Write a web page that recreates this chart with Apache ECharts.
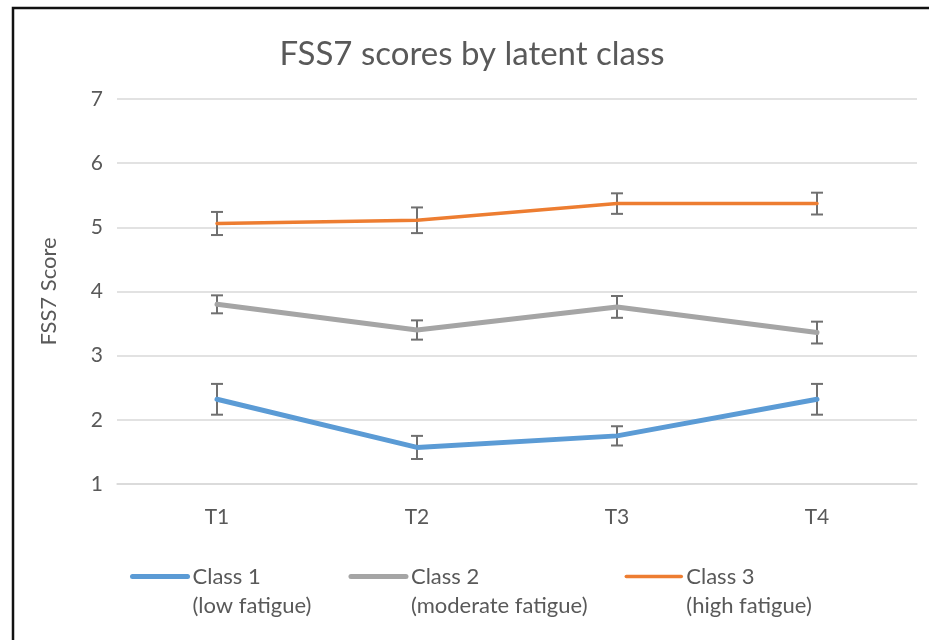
<!DOCTYPE html>
<html>
<head>
<meta charset="utf-8">
<script src="https://cdn.jsdelivr.net/npm/echarts@6/dist/echarts.min.js"></script>
<style>
  html, body { margin: 0; padding: 0; background: #fff; }
  #chart { width: 929px; height: 640px; }
</style>
</head>
<body>
<div id="chart"></div>
<script>
var categories = ['T1', 'T2', 'T3', 'T4'];
var seriesNames = ['Class 1\n(low fatigue)', 'Class 2\n(moderate fatigue)', 'Class 3\n(high fatigue)'];
var class1 = [2.32, 1.57, 1.75, 2.32];
var class1Err = [0.24, 0.18, 0.15, 0.24];
var class2 = [3.80, 3.40, 3.76, 3.36];
var class2Err = [0.14, 0.15, 0.17, 0.17];
var class3 = [5.06, 5.11, 5.37, 5.37];
var class3Err = [0.18, 0.20, 0.16, 0.17];
var yTicks = [1, 2, 3, 4, 5, 6, 7];

var colors = ['#5b9bd5', '#a5a5a5', '#ed7d31'];
var widths = [5, 5, 3.5];
var textColor = '#595959';
var errColor = '#707070';
var font = "Lato, 'Open Sans', sans-serif";

// low / high pairs for each point
function errData(vals, errs) {
  return vals.map(function (v, i) {
    return [i, v - errs[i], v + errs[i]];
  });
}

function renderErr(params, api) {
  var top = api.coord([api.value(0), api.value(2)]);
  var bot = api.coord([api.value(0), api.value(1)]);
  var w = 6;
  var st = { stroke: errColor, lineWidth: 2 };
  return {
    type: 'group',
    children: [
      { type: 'line', shape: { x1: top[0], y1: top[1], x2: bot[0], y2: bot[1] }, style: st },
      { type: 'line', shape: { x1: top[0] - w, y1: top[1], x2: top[0] + w, y2: top[1] }, style: st },
      { type: 'line', shape: { x1: bot[0] - w, y1: bot[1], x2: bot[0] + w, y2: bot[1] }, style: st }
    ]
  };
}

function lineSeries(i, data) {
  return {
    name: seriesNames[i],
    type: 'line',
    data: data,
    symbol: 'none',
    z: 3,
    itemStyle: { color: colors[i] },
    lineStyle: { color: colors[i], width: widths[i], cap: 'round', join: 'round' }
  };
}

function errSeries(vals, errs) {
  return {
    type: 'custom',
    renderItem: renderErr,
    data: errData(vals, errs),
    z: 2,
    silent: true
  };
}

var chart = echarts.init(document.getElementById('chart'));
var option = {
  backgroundColor: '#fff',
  animation: false,
  title: {
    text: 'FSS7 scores by latent class',
    left: 467,
    textAlign: 'center',
    top: 33,
    textStyle: { color: textColor, fontSize: 33, fontWeight: 'normal', fontFamily: font }
  },
  legend: {
    data: seriesNames.map(function (n, i) {
      return { name: n, lineStyle: { width: widths[i], cap: 'round' } };
    }),
    left: 125,
    top: 528,
    itemWidth: 55,
    itemHeight: 14,
    itemGap: 37,
    itemStyle: { opacity: 0 },
    // blank first line so the icon sits next to the first line of the name
    formatter: function (name) { return '\n' + name; },
    textStyle: { color: textColor, fontSize: 22, fontFamily: font, lineHeight: 29 }
  },
  grid: { left: 117, right: 12, top: 99, bottom: 156 },
  xAxis: {
    type: 'category',
    data: categories,
    axisLine: { show: true, lineStyle: { color: '#d9d9d9', width: 1.5 } },
    axisTick: { show: false },
    axisLabel: { color: textColor, fontSize: 21, fontFamily: font, margin: 23 }
  },
  yAxis: {
    type: 'value',
    min: yTicks[0],
    max: yTicks[yTicks.length - 1],
    interval: 1,
    name: 'FSS7 Score',
    nameLocation: 'middle',
    nameGap: 57,
    nameTextStyle: { color: textColor, fontSize: 22, fontFamily: font },
    axisLine: { show: false },
    axisTick: { show: false },
    axisLabel: { color: textColor, fontSize: 21, fontFamily: font, margin: 14 },
    splitLine: { lineStyle: { color: '#d9d9d9', width: 1.5 } }
  },
  graphic: [{
    type: 'rect',
    shape: { x: 13, y: 8, width: 1000, height: 1000 },
    style: { fill: 'none', stroke: '#111', lineWidth: 2.5 },
    silent: true
  }],
  series: [
    errSeries(class1, class1Err),
    errSeries(class2, class2Err),
    errSeries(class3, class3Err),
    lineSeries(0, class1),
    lineSeries(1, class2),
    lineSeries(2, class3)
  ]
};
chart.setOption(option);
</script>
</body>
</html>
